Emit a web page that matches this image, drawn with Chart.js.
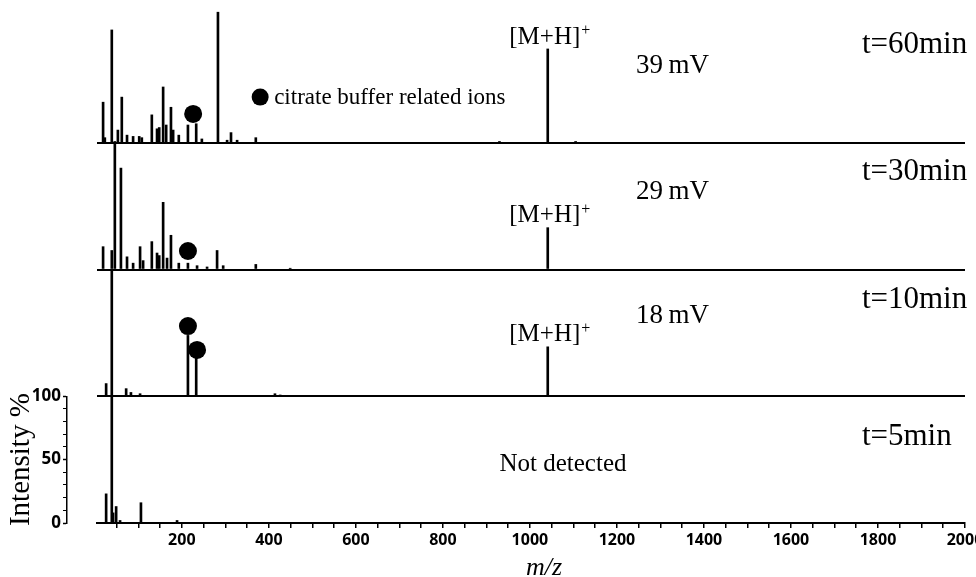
<!DOCTYPE html>
<html><head><meta charset="utf-8">
<script src="https://cdn.jsdelivr.net/npm/chart.js@4.4.1/dist/chart.umd.min.js"></script>
<style>html,body{margin:0;padding:0;background:#fff}</style>
</head><body>
<canvas id="c" width="976" height="577"></canvas>
<script>
// ---- data (m/z, relative intensity %) ----
const panelLabels = ['t=60min', 't=30min', 't=10min', 't=5min'];
const voltageLabels = ['39\u2009mV', '29\u2009mV', '18\u2009mV'];
const mhMz = 1041;

const mz60  = [19, 23, 39, 53, 62, 74, 88, 102, 108, 131, 143, 148, 157, 164, 175, 180, 193, 214, 233, 246, 283, 304, 313, 327, 370, 930, 1041, 1105];
const int60 = [32, 4, 89, 10, 36, 6, 5, 5, 4, 22, 11, 12, 44, 14, 28, 10, 6, 14, 15, 3, 103, 2, 8, 2, 4, 1, 74, 1];

const mz30  = [19, 39, 46, 60, 74, 88, 104, 111, 131, 143, 148, 157, 166, 175, 193, 214, 235, 258, 281, 295, 370, 449, 1041];
const int30 = [18, 15, 101, 80, 10, 5, 18, 7, 22, 13, 11, 53, 9, 27, 5, 5, 3, 2, 15, 3, 4, 1, 33];

const mz10  = [26, 39, 72, 83, 104, 214, 233, 414, 426, 1041];
const int10 = [10, 100, 6, 3, 2, 48, 30, 2, 1, 39];

const mz5   = [26, 39, 42, 49, 58, 106, 189];
const int5  = [23, 100, 8, 13, 2, 16, 2];

// citrate buffer related ion markers
const citMz60 = [226], citInt60 = [22.7];
const citMz30 = [214], citInt30 = [14.6];
const citMz10 = [214, 235], citInt10 = [55.4, 36.5];

// ticks
const xMajorTicks = [200, 400, 600, 800, 1000, 1200, 1400, 1600, 1800, 2000];
const xMinorTicks = [50,100,150,250,300,350,450,500,550,650,700,750,850,900,950,1050,1100,1150,1250,1300,1350,1450,1500,1550,1650,1700,1750,1850,1900,1950];
const yMajorTicks = [0, 50, 100];
const yMinorTicks = [10, 20, 30, 40, 60, 70, 80, 90];

// ---- helpers ----
const serif = "'Liberation Serif','Times New Roman',serif";
const sans = "'Open Sans','Noto Sans',sans-serif";
const pts = (xs, ys) => xs.map((x, i) => ({x, y: ys[i]}));
const panelAxes = ['y3', 'y2', 'y1', 'y0']; // top -> bottom

function barSet(xs, ys, axis) {
  return {type: 'bar', data: pts(xs, ys), yAxisID: axis, xAxisID: 'x',
    backgroundColor: '#000', borderWidth: 0, barThickness: 2, grouped: false, clip: false};
}
function dotSet(xs, ys, axis) {
  return {type: 'scatter', data: pts(xs, ys), yAxisID: axis, xAxisID: 'x',
    pointRadius: 9, pointHoverRadius: 9, pointBackgroundColor: '#000', pointBorderWidth: 0, clip: false};
}
function hiddenY() {
  return {type: 'linear', position: 'left', stack: 'spec', stackWeight: 1, min: 0, max: 100,
    ticks: {display: false, stepSize: 100}, border: {display: false},
    grid: {drawTicks: false, lineWidth: 2,
      color: c => (c.tick && c.tick.value === 0) ? '#000' : 'rgba(0,0,0,0)'}};
}

const annot = {
  id: 'annot',
  afterLayout(chart) {
    const y0 = chart.scales.y0;
    y0.right = chart.chartArea.left - 30;
  },
  afterDraw(chart) {
    const ctx = chart.ctx, x = chart.scales.x;
    const S = chart.scales;
    ctx.save();
    ctx.fillStyle = '#000';
    ctx.textBaseline = 'middle';
    // time labels
    const tVals = [77, 77, 76, 68];
    ctx.font = `31px ${serif}`; ctx.textAlign = 'left';
    panelLabels.forEach((t, i) => ctx.fillText(t, x.getPixelForValue(1763), S[panelAxes[i]].getPixelForValue(tVals[i])));
    // voltage labels
    const vVals = [60.5, 61, 63];
    ctx.font = `27px ${serif}`;
    voltageLabels.forEach((t, i) => ctx.fillText(t, x.getPixelForValue(1244), S[panelAxes[i]].getPixelForValue(vVals[i])));
    // [M+H]+ labels
    const mhInts = [int60[mz60.indexOf(mhMz)], int30[mz30.indexOf(mhMz)], int10[mz10.indexOf(mhMz)]];
    mhInts.forEach((v, i) => {
      const px = x.getPixelForValue(mhMz);
      const py = S[panelAxes[i]].getPixelForValue(v) - 12;
      ctx.font = `25px ${serif}`;
      const w = ctx.measureText('[M+H]').width;
      const sx = px - w / 2 - 3;
      ctx.textAlign = 'left';
      ctx.fillText('[M+H]', sx, py);
      ctx.font = `16px ${serif}`;
      ctx.fillText('+', sx + w + 1, py - 6);
    });
    // legend
    const lx = x.getPixelForValue(380), ly = S.y3.getPixelForValue(36);
    ctx.beginPath(); ctx.arc(lx, ly, 8.5, 0, Math.PI * 2); ctx.fill();
    ctx.font = `23px ${serif}`; ctx.textAlign = 'left';
    ctx.fillText('citrate buffer related ions', lx + 14, ly + 1);
    // not detected
    ctx.font = `25px ${serif}`; ctx.textAlign = 'center';
    ctx.fillText('Not detected', x.getPixelForValue(1076), S.y0.getPixelForValue(46.5));
    ctx.restore();
  }
};

new Chart(document.getElementById('c'), {
  type: 'bar',
  data: {
    datasets: [
      barSet(mz60, int60, 'y3'), barSet(mz30, int30, 'y2'), barSet(mz10, int10, 'y1'), barSet(mz5, int5, 'y0'),
      dotSet(citMz60, citInt60, 'y3'), dotSet(citMz30, citInt30, 'y2'), dotSet(citMz10, citInt10, 'y1')
    ]
  },
  options: {
    responsive: false, devicePixelRatio: 1, animation: false,
    layout: {padding: {left: 0, top: 16, right: 11, bottom: 0}},
    plugins: {legend: {display: false}, tooltip: {enabled: false}},
    scales: {
      x: {type: 'linear', min: 5, max: 2000, offset: false, position: 'bottom',
        afterBuildTicks: s => { s.ticks = xMajorTicks.concat(xMinorTicks).sort((a, b) => a - b).map(v => ({value: v})); },
        afterFit: s => { s.height = 54; s.paddingLeft = 0; s.paddingRight = 0; },
        ticks: {autoSkip: false, maxRotation: 0, minRotation: 0, padding: 3, color: '#000',
          font: {family: sans, size: 16, weight: 'bold'},
          callback: v => xMajorTicks.includes(v) ? String(v) : ''},
        grid: {drawOnChartArea: false, drawTicks: true, tickLength: 5, color: '#000', lineWidth: 1.5, offset: false},
        border: {display: true, color: '#000', width: 2},
        title: {display: true, text: '\u2003m/z', color: '#000', font: {family: serif, size: 26, style: 'italic', lineHeight: 0.7}, padding: {top: 0, bottom: 0}}
      },
      y0: {type: 'linear', position: 'left', stack: 'spec', stackWeight: 1, min: 0, max: 100,
        afterBuildTicks: s => { s.ticks = yMajorTicks.concat(yMinorTicks).sort((a, b) => a - b).map(v => ({value: v})); },
        afterFit: s => { s.width = 97; s.paddingTop = 0; s.paddingBottom = 0; },
        ticks: {autoSkip: false, padding: 2, color: '#000', font: {family: sans, size: 17, weight: 'bold'},
          callback: v => yMajorTicks.includes(v) ? String(v) : ''},
        grid: {drawOnChartArea: false, drawTicks: true, tickLength: 4, color: '#000',
          tickWidth: c => (c.tick && yMajorTicks.includes(c.tick.value)) ? 1.5 : 1},
        border: {display: true, color: '#000', width: 1.5},
        title: {display: true, text: 'Intensity %', color: '#000', font: {family: serif, size: 29, lineHeight: 1}, padding: {top: 7, bottom: 0}}
      },
      y1: hiddenY(),
      y2: hiddenY(),
      y3: hiddenY()
    }
  },
  plugins: [annot]
});
</script>
</body></html>
